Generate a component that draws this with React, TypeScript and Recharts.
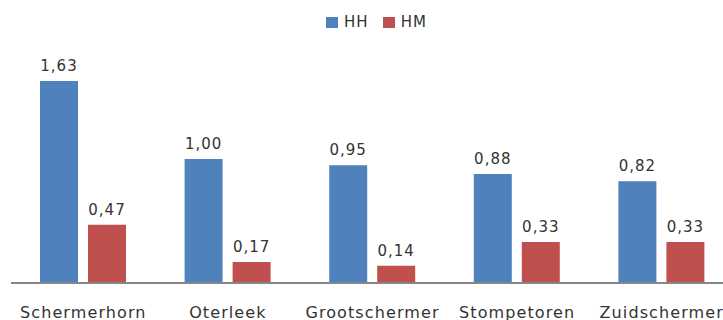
import { BarChart, Bar, XAxis, YAxis, LabelList, Legend } from 'recharts';

const places = ['Schermerhorn', 'Oterleek', 'Grootschermer', 'Stompetoren', 'Zuidschermer'];
const hh = [1.63, 1.0, 0.95, 0.88, 0.82];
const hm = [0.47, 0.17, 0.14, 0.33, 0.33];

const BLUE = '#4F81BD';
const RED = '#C0504D';
const FONT = '"DejaVu Sans", Verdana, sans-serif';

const data = places.map((name, i) => ({ name, HH: hh[i], HM: hm[i] }));

function fmt(v: number) {
  return v.toFixed(2).replace('.', ',');
}

function LegendContent() {
  const items = [
    { label: 'HH', color: BLUE },
    { label: 'HM', color: RED },
  ];
  return (
    <div
      style={{
        display: 'flex',
        justifyContent: 'center',
        alignItems: 'center',
        paddingLeft: 8,
        fontFamily: FONT,
        fontSize: 15,
        color: '#333',
        letterSpacing: 1,
      }}
    >
      {items.map((it, i) => (
        <div key={it.label} style={{ display: 'flex', alignItems: 'center', marginLeft: i ? 14 : 0 }}>
          <span style={{ width: 12, height: 11, background: it.color, display: 'inline-block', marginRight: 6 }} />
          <span>{it.label}</span>
        </div>
      ))}
    </div>
  );
}

export default function App() {
  return (
    <div style={{ position: 'absolute', left: 0, top: 0, width: 723, height: 320, overflow: 'hidden', background: '#fff' }}>
      <BarChart
        width={745}
        height={320}
        data={data}
        barSize={38}
        barGap={10}
        margin={{ top: 35, right: 11, left: 11, bottom: 0 }}
      >
        <Legend verticalAlign="middle" align="center" content={<LegendContent />} wrapperStyle={{ top: 13 }} />
        <XAxis
          dataKey="name"
          height={37}
          axisLine={{ stroke: '#868686', strokeWidth: 2 }}
          tickLine={false}
          tickSize={0}
          tickMargin={24}
          tick={{ fill: '#333', fontSize: 16, fontFamily: FONT, letterSpacing: 1.1 }}
          interval={0}
        />
        <YAxis hide domain={[0, 2]} />
        <Bar dataKey="HH" fill={BLUE} isAnimationActive={false}>
          <LabelList dataKey="HH" position="top" offset={10} formatter={(v: any) => fmt(Number(v))} fill="#333" fontSize={15} fontFamily={FONT} letterSpacing={1} />
        </Bar>
        <Bar dataKey="HM" fill={RED} isAnimationActive={false}>
          <LabelList dataKey="HM" position="top" offset={10} formatter={(v: any) => fmt(Number(v))} fill="#333" fontSize={15} fontFamily={FONT} letterSpacing={1} />
        </Bar>
      </BarChart>
    </div>
  );
}
